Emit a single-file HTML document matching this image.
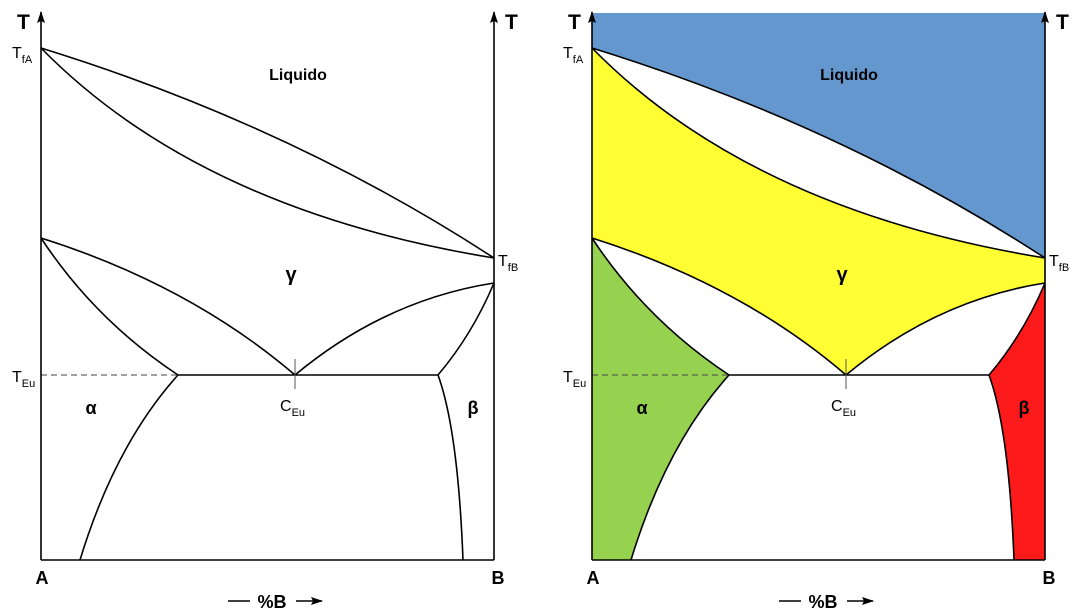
<!DOCTYPE html>
<html><head><meta charset="utf-8"><style>
body{margin:0;background:#fff}
svg{display:block;font-family:"Liberation Sans",sans-serif}
</style></head><body>
<svg id="chart" width="1086" height="615" viewBox="0 0 1086 615" xmlns="http://www.w3.org/2000/svg">
<defs>
<marker id="ar" markerWidth="12" markerHeight="10" refX="11" refY="5" orient="auto" markerUnits="userSpaceOnUse"><path d="M0,1 L12,5 L0,9 L2,5 Z" fill="#000"/></marker>
<marker id="ar2" markerWidth="12" markerHeight="10" refX="11" refY="5" orient="auto" markerUnits="userSpaceOnUse"><path d="M0,1 L12,5 L0,9 L2,5 Z" fill="#000"/></marker>
</defs>
</svg>
<script>
// key diagram points (left panel coordinates)
const TfA=[41,48], TfB=[494,258], Tg=[41,238], Tb=[494,283];
const Ea=[178,375], Ceu=[295,375], Eb=[438,375];
const Sa=[80,560], Sb=[463,560];
const ctrlLiqUp=[290,125], ctrlLiqLow=[200,210];
const ctrlGL=[190,285], ctrlAl=[95,320], ctrlGR=[385,300], ctrlBe=[472,335];
const ctrlSa=[115,445], ctrlSb=[458,430];
const svg=document.getElementById('chart');
const NS='http://www.w3.org/2000/svg';
function P(p,dx){return (p[0]+dx)+','+p[1];}
function mk(tag,attrs,name,parent){const e=document.createElementNS(NS,tag);for(const k in attrs)e.setAttribute(k,attrs[k]);


(parent||svg).appendChild(e);return e;}
function txt(x,y,s,size,bold,name,sub,anchor){const t=mk('text',{x:x,y:y,'font-size':size,'font-weight':bold?'bold':'normal','text-anchor':anchor||'start'},name);
t.textContent=s;if(sub){const ts=document.createElementNS(NS,'tspan');ts.setAttribute('font-size',11);ts.setAttribute('dy',5);ts.textContent=sub;t.appendChild(ts);}return t;}
function panel(dx,colored){
  const g=mk('g',{},colored?'colored-diagram':'plain-diagram');
  const x0=41+dx,x1=494+dx;
  if(colored){
    mk('path',{d:`M${x0},13 L${x1},13 L${P(TfB,dx)} Q${P(ctrlLiqUp,dx)} ${P(TfA,dx)} Z`,fill:'#6497cd'},'liquid-region',g);
    mk('path',{d:`M${P(TfA,dx)} Q${P(ctrlLiqLow,dx)} ${P(TfB,dx)} L${P(Tb,dx)} Q${P(ctrlGR,dx)} ${P(Ceu,dx)} Q${P(ctrlGL,dx)} ${P(Tg,dx)} Z`,fill:'#ffff33'},'gamma-region',g);
    mk('path',{d:`M${P(Tg,dx)} Q${P(ctrlAl,dx)} ${P(Ea,dx)} Q${P(ctrlSa,dx)} ${P(Sa,dx)} L${x0},560 Z`,fill:'#96d250'},'alpha-region',g);
    mk('path',{d:`M${P(Tb,dx)} Q${P(ctrlBe,dx)} ${P(Eb,dx)} Q${P(ctrlSb,dx)} ${P(Sb,dx)} L${x1},560 Z`,fill:'#fc1a1a'},'beta-region',g);
  }
  const st={fill:'none',stroke:'#000','stroke-width':1.6};
  const curves=[['liquidus-curve',`M${P(TfA,dx)} Q${P(ctrlLiqUp,dx)} ${P(TfB,dx)}`],
    ['solidus-curve',`M${P(TfA,dx)} Q${P(ctrlLiqLow,dx)} ${P(TfB,dx)}`],
    ['gamma-left-boundary',`M${P(Tg,dx)} Q${P(ctrlGL,dx)} ${P(Ceu,dx)}`],
    ['alpha-boundary',`M${P(Tg,dx)} Q${P(ctrlAl,dx)} ${P(Ea,dx)}`],
    ['gamma-right-boundary',`M${P(Ceu,dx)} Q${P(ctrlGR,dx)} ${P(Tb,dx)}`],
    ['beta-boundary',`M${P(Tb,dx)} Q${P(ctrlBe,dx)} ${P(Eb,dx)}`],
    ['alpha-solvus',`M${P(Ea,dx)} Q${P(ctrlSa,dx)} ${P(Sa,dx)}`],
    ['beta-solvus',`M${P(Eb,dx)} Q${P(ctrlSb,dx)} ${P(Sb,dx)}`],
    ['eutectic-line',`M${P(Ea,dx)} L${P(Eb,dx)}`]];
  curves.forEach(c=>mk('path',Object.assign({d:c[1]},st),c[0],g));
  mk('line',{x1:x0,y1:375,x2:Ea[0]+dx,y2:375,stroke:'#444','stroke-width':1,'stroke-dasharray':'6,4'},'eutectic-temp-dashed',g);
  mk('line',{x1:Ceu[0]+dx,y1:359,x2:Ceu[0]+dx,y2:389,stroke:'#555','stroke-width':1},'eutectic-comp-tick',g);
  mk('line',{x1:x0,y1:560,x2:x1,y2:560,stroke:'#000','stroke-width':1.6},'x-axis',g);
  mk('line',{x1:x0,y1:560,x2:x0,y2:12,stroke:'#000','stroke-width':1.6,'marker-end':'url(#ar)'},'left-t-axis',g);
  mk('line',{x1:x1,y1:560,x2:x1,y2:12,stroke:'#000','stroke-width':1.6,'marker-end':'url(#ar)'},'right-t-axis',g);
  txt(17+dx,29,'T',21,true,'t-label-left');
  txt(505+dx,29,'T',21,true,'t-label-right');
  txt(12+dx,58,'T',16,false,'tfa-label','fA');
  txt(498+dx,266,'T',16,false,'tfb-label','fB');
  txt(12+dx,382,'T',16,false,'teu-label','Eu');
  txt(280+dx,411,'C',16,false,'ceu-label','Eu');
  txt(298+dx,80,'Liquido',16,true,'liquid-label',null,'middle');
  txt(291+dx,281,'γ',20,true,'gamma-label',null,'middle');
  txt(91+dx,414,'α',18,true,'alpha-label',null,'middle');
  txt(473+dx,414,'β',18,true,'beta-label',null,'middle');
  txt(42+dx,584,'A',18,true,'a-label',null,'middle');
  txt(498+dx,584,'B',18,true,'b-label',null,'middle');
  txt(272+dx,608,'%B',18,true,'composition-label',null,'middle');
  mk('line',{x1:228+dx,y1:601,x2:250+dx,y2:601,stroke:'#000','stroke-width':1.4},'composition-dash',g);
  mk('line',{x1:296+dx,y1:601,x2:322+dx,y2:601,stroke:'#000','stroke-width':1.4,'marker-end':'url(#ar2)'},'composition-arrow',g);
}
panel(0,false);
panel(551,true);
</script>
</body></html>
